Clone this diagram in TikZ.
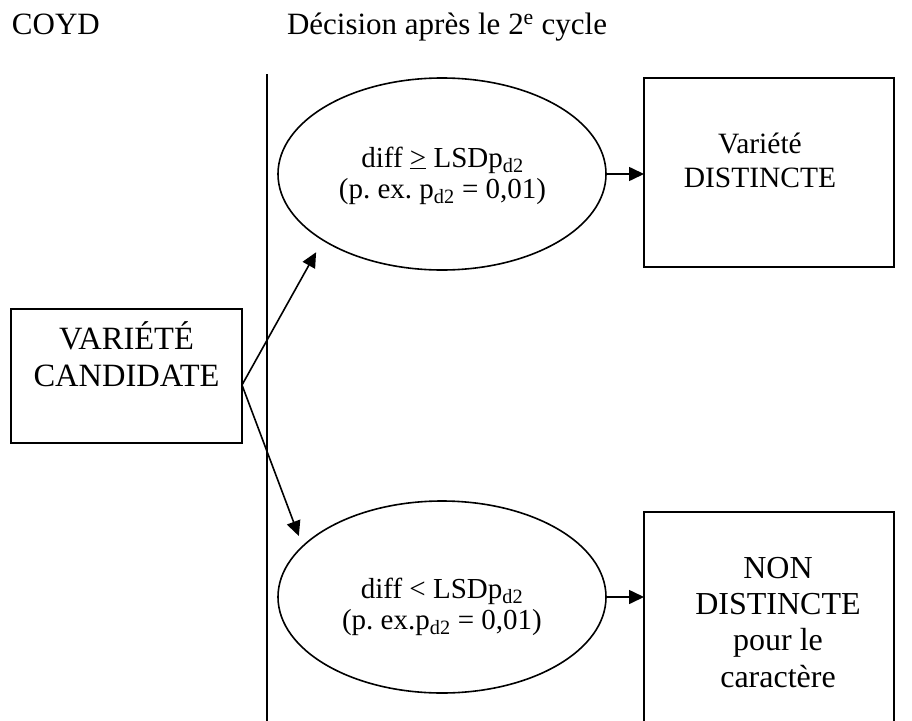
\documentclass[tikz,border=0pt]{standalone}
\usepackage{fontspec}
\setmainfont{Liberation Serif}
\frenchspacing
\usetikzlibrary{shapes.geometric,arrows.meta}
\begin{document}
\begin{tikzpicture}[x=1pt,y=-1pt,
  every node/.style={inner sep=0pt, outer sep=0pt},
  boxshape/.style={draw, line width=1.6pt, rectangle},
  oval/.style={draw, line width=1.6pt, ellipse, minimum width=328pt, minimum height=192pt},
  txt/.style={align=center, font=\fontsize{32.5}{37}\selectfont},
  etxt/.style={align=center, font=\fontsize{29}{31}\selectfont},
  conn/.style={line width=1.6pt, -{Triangle[length=15pt,width=14pt]}}]
\useasboundingbox (0,0) rectangle (912,720);

% titles
\node[anchor=base west, font=\fontsize{31}{36}\selectfont] (coyd) at (12,34) {COYD};
\node[anchor=base west, font=\fontsize{31}{36}\selectfont] (title) at (287,34) {Décision après le 2\textsuperscript{e} cycle};

% separator line
\coordinate (vtop) at (267,74);
\coordinate (vbot) at (267,724);
\draw[line width=2pt] (vtop) -- (vbot);

% candidate box
\node[boxshape, minimum width=231pt, minimum height=134pt] (cand) at (126.5,376) {};
\node[txt, anchor=base] (candt) at (126.5,386) {VARIÉTÉ\\CANDIDATE};

% ellipses
\node[oval] (e1) at (442,174) {};
\node[etxt, anchor=base] (e1t) at (442.5,198) {diff \underline{>} LSDp\textsubscript{d2}\\(p. ex. p\textsubscript{d2} = 0,01)};
\node[oval] (e2) at (442,597) {};
\node[etxt, anchor=base] (e2t) at (442,629) {diff < LSDp\textsubscript{d2}\\(p. ex.p\textsubscript{d2} = 0,01)};

% result boxes
\node[boxshape, minimum width=250pt, minimum height=189pt] (d1) at (769,172.5) {};
\node[txt, anchor=base, font=\fontsize{29.5}{34}\selectfont] (d1t) at (760,187) {Variété\\DISTINCTE};
\node[boxshape, minimum width=250pt, minimum height=212pt] (d2) at (769,618) {};
\node[txt, anchor=base, font=\fontsize{32}{36.3}\selectfont] (d2t) at (778,687) {NON\\DISTINCTE\\pour le\\caractère};

% connectors
\draw[conn, shorten >=14pt] ([yshift=-9pt]cand.east) -- (e1.209.4);
\draw[conn, shorten >=11pt] ([yshift=-9pt]cand.east) -- (e2.160.8);
\draw[conn] (e1.east) -- (e1.east -| d1.west);
\draw[conn] (e2.east) -- (e2.east -| d2.west);
\end{tikzpicture}
\end{document}
